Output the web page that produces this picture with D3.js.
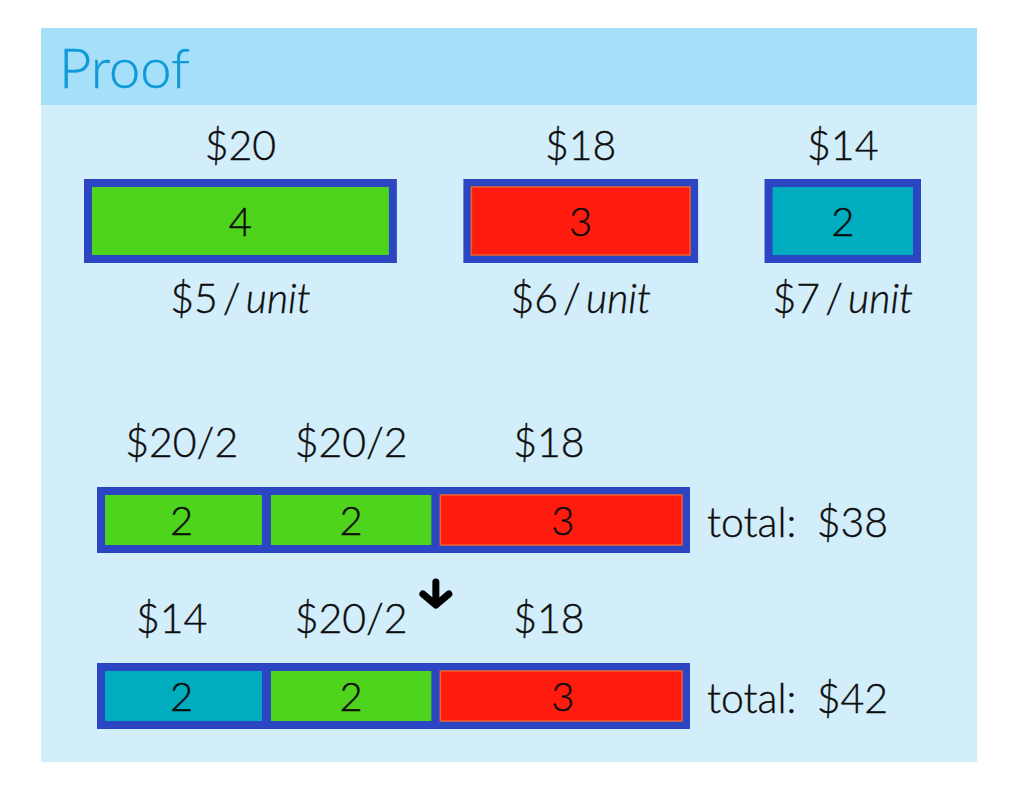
<!DOCTYPE html>
<html>
<head>
<meta charset="utf-8">
<script src="https://cdn.jsdelivr.net/npm/d3@7"></script>
<style>
  body { margin: 0; background: #fff; }
  text { font-family: Lato, "Open Sans", sans-serif; font-weight: 300; fill: #0d0d0d; stroke: #0d0d0d; stroke-width: 0.4px; }
</style>
</head>
<body>
<svg id="chart" width="1024" height="786"></svg>
<script>
// top row: three offers
var offerCosts = ["$20", "$18", "$14"];
var offerUnits = [4, 3, 2];
var offerPrices = ["$5", "$6", "$7"];
var offerColors = ["#4fd41e", "#ff1b0d", "#00adbf"];

// bottom rows: two combinations of 7 units
var row1Labels = ["$20/2", "$20/2", "$18"];
var row1Units = [2, 2, 3];
var row1Colors = ["#4fd41e", "#4fd41e", "#ff1b0d"];
var row1Total = "$38";

var row2Labels = ["$14", "$20/2", "$18"];
var row2Units = [2, 2, 3];
var row2Colors = ["#00adbf", "#4fd41e", "#ff1b0d"];
var row2Total = "$42";

var borderColor = "#2c46c3";

var svg = d3.select("#chart");

// slide background
svg.append("rect").attr("x", 41).attr("y", 28).attr("width", 936).attr("height", 734).attr("fill", "#d3eefb");
svg.append("rect").attr("x", 41).attr("y", 28).attr("width", 936).attr("height", 77).attr("fill", "#a6dff9");
svg.append("text").attr("x", 59).attr("y", 88)
    .style("font-size", "56px").style("fill", "#0f99d8").style("stroke", "#0f99d8")
    .text("Proof");

// ---- top offers ----
var gap = 0.85;  // gap between boxes, in units
var starts = [];
var acc = 0;
offerUnits.forEach(function(u) { starts.push(acc); acc += u + gap; });
var xTop = d3.scaleLinear().domain([0, acc - gap]).range([84, 921]);

var offers = offerUnits.map(function(u, i) {
    return { units: u, start: starts[i], cost: offerCosts[i], price: offerPrices[i], color: offerColors[i] };
});

var boxTop = 179, boxH = 84, bw = 8;

var g = svg.append("g");
var og = g.selectAll(".offer").data(offers).enter().append("g").attr("class", "offer");

og.append("rect")
    .attr("x", function(d) { return xTop(d.start); })
    .attr("y", boxTop)
    .attr("width", function(d) { return xTop(d.start + d.units) - xTop(d.start); })
    .attr("height", boxH)
    .attr("fill", borderColor);
og.append("rect")
    .attr("x", function(d) { return xTop(d.start) + bw; })
    .attr("y", boxTop + bw)
    .attr("width", function(d) { return xTop(d.start + d.units) - xTop(d.start) - 2 * bw; })
    .attr("height", boxH - 2 * bw)
    .attr("fill", function(d) { return d.color; })
    .attr("stroke", function(d) { return d.color === "#ff1b0d" ? "#f0602a" : "none"; })
    .attr("stroke-width", 1.5);
og.append("text")
    .attr("x", function(d) { return xTop(d.start + d.units / 2); })
    .attr("y", boxTop + boxH / 2 + 15)
    .attr("text-anchor", "middle")
    .style("font-size", "40px")
    .text(function(d) { return d.units; });
og.append("text")
    .attr("x", function(d) { return xTop(d.start + d.units / 2); })
    .attr("y", 160)
    .attr("text-anchor", "middle")
    .style("font-size", "41px")
    .text(function(d) { return d.cost; });
var pt = og.append("text")
    .attr("x", function(d) { return xTop(d.start + d.units / 2); })
    .attr("y", 313)
    .attr("text-anchor", "middle")
    .style("font-size", "41px");
pt.append("tspan").text(function(d) { return d.price + "\u2009/\u2009"; });
pt.append("tspan").style("font-style", "italic").text("unit");

// ---- bottom rows ----
var xRow = d3.scaleLinear().domain([0, 7]).range([97, 690]);

function drawRow(labels, units, colors, total, top) {
    var cells = [];
    var s = 0;
    units.forEach(function(u, i) {
        cells.push({ start: s, end: s + u, label: labels[i], units: u, color: colors[i], first: i === 0, last: i === units.length - 1 });
        s += u;
    });
    var h = 66;
    var rg = svg.append("g");
    rg.append("rect")
        .attr("x", xRow(0)).attr("y", top)
        .attr("width", xRow(s) - xRow(0)).attr("height", h)
        .attr("fill", borderColor);
    var cg = rg.selectAll(".cell").data(cells).enter().append("g");
    cg.append("rect")
        .attr("x", function(d) { return xRow(d.start) + (d.first ? bw : 4.5); })
        .attr("y", top + bw)
        .attr("width", function(d) { return xRow(d.end) - xRow(d.start) - (d.first ? bw : 4.5) - (d.last ? bw : 4.5); })
        .attr("height", h - 2 * bw)
        .attr("fill", function(d) { return d.color; })
        .attr("stroke", function(d) { return d.color === "#ff1b0d" ? "#f0602a" : "none"; })
        .attr("stroke-width", 1.5);
    cg.append("text")
        .attr("x", function(d) { return xRow((d.start + d.end) / 2); })
        .attr("y", top + h / 2 + 15)
        .attr("text-anchor", "middle")
        .style("font-size", "40px")
        .text(function(d) { return d.units; });
    cg.append("text")
        .attr("x", function(d) { return xRow((d.start + d.end) / 2) - (d.last ? 14 : 0) - (d.first && d.label.length < 4 ? 10 : 0); })
        .attr("y", top - 30)
        .attr("text-anchor", "middle")
        .style("font-size", "41px")
        .text(function(d) { return d.label; });
    rg.append("text")
        .attr("x", xRow(s) + 17)
        .attr("y", top + 50)
        .style("font-size", "41px")
        .text("total:\u2002" + total);
}

drawRow(row1Labels, row1Units, row1Colors, row1Total, 487);
drawRow(row2Labels, row2Units, row2Colors, row2Total, 663);

// down arrow next to the swapped label
var ax = xRow(4);
var p = d3.path();
p.moveTo(ax, 582); p.lineTo(ax, 604);
p.moveTo(ax - 13, 594); p.lineTo(ax, 605); p.lineTo(ax + 13, 594);
svg.append("path").attr("d", p.toString())
    .attr("fill", "none").attr("stroke", "#000")
    .attr("stroke-width", 7).attr("stroke-linecap", "round").attr("stroke-linejoin", "round");
</script>
</body>
</html>
